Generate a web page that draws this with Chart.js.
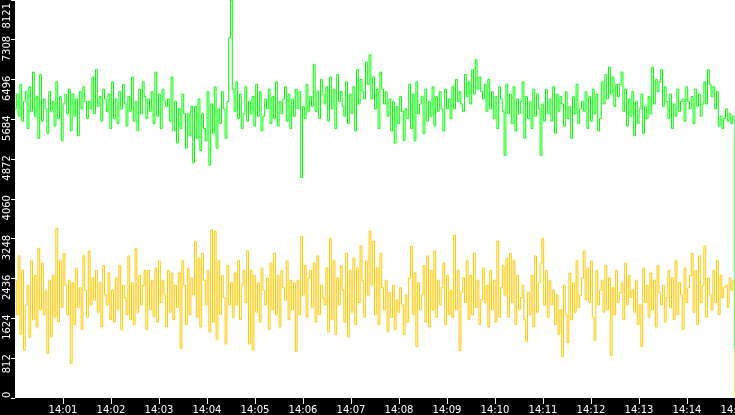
<!DOCTYPE html>
<html>
<head>
<meta charset="utf-8">
<script src="https://cdn.jsdelivr.net/npm/chart.js@4.4.1/dist/chart.umd.min.js"></script>
<style>
  html, body { margin: 0; padding: 0; background: #fff; overflow: hidden; }
</style>
</head>
<body>
<canvas id="trafficChart" width="735" height="415"></canvas>
<script>
  // one sample every 2.25 s, 14:00:00 -> 14:15:00
  var sampleStep = 2.25;

  var greenValues = [
    5900, 6200, 5750, 6400, 5650, 6050, 6250, 5500, 6350, 5850, 6650,
    5750, 6150, 5300, 6600, 5650, 6100, 5900, 5400, 6250, 5850, 6050,
    5550, 6450, 5700, 6150, 5250, 6000, 6200, 5800, 6300, 5450, 6200,
    5750, 6100, 5350, 6250, 5900, 6350, 6050, 5700, 6050, 5900, 6550,
    5800, 6700, 5950, 6150, 5650, 6300, 6100, 5850, 6200, 5500, 6450,
    5700, 6100, 5600, 6250, 5900, 6400, 6000, 5550, 6150, 5850, 6550,
    5650, 6050, 5450, 6300, 5800, 6450, 6150, 5700, 6100, 5850, 6250,
    5600, 6650, 5750, 6200, 5500, 6300, 6050, 5950, 6100, 5650, 6550,
    5450, 6050, 5200, 5900, 5500, 6200, 5800, 5100, 5800, 5350, 5950,
    4800, 5950, 5300, 6100, 5050, 5800, 5500, 5250, 6250, 4750, 6000,
    5400, 6350, 5100, 5900, 5600, 6250, 5900, 5300, 6050, 7350, 8121,
    6300, 5850, 6450, 5700, 6200, 5500, 5800, 6350, 5650, 6050, 5800,
    6150, 5550, 6400, 5750, 6250, 5450, 5750, 6100, 5900, 6300, 5600,
    6150, 5700, 6450, 5550, 6050, 5800, 6100, 6350, 5650, 6200, 5500,
    6100, 5750, 6300, 5900, 6250, 4500, 5950, 5700, 6400, 5850, 6150,
    5950, 6800, 5850, 6250, 5700, 6500, 6200, 6000, 6350, 5650, 6550,
    5900, 6300, 5500, 6600, 6050, 6250, 5950, 5750, 6450, 5600, 6200,
    5800, 6350, 5450, 6700, 6000, 6500, 6250, 6100, 6850, 6400, 7000,
    6100, 6550, 5900, 6300, 5500, 6650, 6300, 6000, 6250, 5750, 6100,
    5450, 6050, 5200, 5950, 5600, 6150, 5850, 5250, 5900, 5700, 6400,
    5500, 6200, 5250, 6450, 5800, 6000, 6150, 5400, 6300, 5650, 6050,
    5750, 6350, 5550, 6150, 5850, 6250, 5900, 5450, 6300, 5900, 6100,
    5700, 6350, 5900, 6500, 6050, 6250, 6000, 5850, 6600, 6150, 6450,
    6000, 6700, 6200, 6900, 6300, 6550, 6250, 6100, 6400, 5850, 6500,
    5900, 6250, 5700, 6150, 5500, 6350, 6100, 5850, 4950, 6400, 5800,
    6200, 5600, 6350, 5450, 6100, 5800, 6050, 6450, 5300, 6150, 5700,
    6050, 5500, 6300, 5750, 6200, 5900, 4950, 6000, 5650, 6300, 5800,
    6100, 5650, 6350, 5400, 6200, 5850, 6150, 6000, 5550, 6250, 5700,
    5950, 5300, 6150, 5800, 6400, 5600, 5900, 6050, 5850, 6250, 5500,
    6150, 5650, 6300, 5800, 6200, 5450, 5700, 6450, 6000, 6600, 6100,
    6750, 6200, 6550, 5950, 6400, 6150, 6400, 6650, 5850, 6300, 5550,
    6100, 5750, 6250, 5350, 6050, 5600, 5900, 6200, 5400, 5950, 5700,
    6150, 5800, 6750, 6000, 6500, 6250, 6450, 6700, 5950, 6350, 6050, 5700,
    6200, 5500, 6000, 5750, 6300, 5850, 6050, 6100, 5650, 6350, 6050, 5900,
    6150, 5600, 6300, 5950, 6200, 5750, 6000, 6450, 6000, 6700, 6400, 6150,
    6350, 5900, 6250, 5550, 5750, 5500, 5700, 5900, 5650, 5800, 5600, 5750,
    1000
  ];

  var yellowValues = [
    2400, 1700, 2900, 1300, 2600, 980, 1900, 2300, 1240, 2800, 1600,
    2500, 1450, 3050, 1800, 2750, 1700, 2200, 910, 2400, 1250, 2500,
    1650, 3461, 1550, 2800, 1850, 2950, 2300, 1700, 2400, 707, 2350,
    1500, 2650, 1850, 2250, 1400, 2900, 2200, 1650, 3000, 1900, 2450,
    2000, 2600, 1750, 2350, 1450, 2700, 2100, 1900, 2550, 1600, 2200,
    1550, 2450, 1800, 2700, 1400, 2300, 2050, 1700, 2900, 1600, 2350,
    1500, 3050, 1750, 2500, 1900, 2300, 2600, 1400, 2600, 1800, 2400,
    1650, 2650, 1550, 2800, 1950, 2400, 2100, 1450, 2600, 1750, 2550,
    1600, 2300, 1850, 2550, 1013, 2800, 2300, 1500, 2650, 1700, 2450,
    2100, 3189, 1650, 2850, 1450, 2950, 2400, 1900, 2600, 1350, 3427,
    1550, 3400, 1200, 2800, 1700, 2500, 2050, 1100, 2700, 1900, 2350,
    1650, 2550, 1900, 2800, 1600, 2300, 2600, 1950, 3000, 1100, 2600,
    980, 2500, 1750, 2350, 1550, 2650, 2200, 1900, 2450, 1400, 2750,
    1800, 2950, 1700, 2500, 1450, 2600, 2250, 2000, 2800, 1600, 2400,
    1800, 2350, 945, 2400, 1700, 3290, 2100, 2700, 1650, 2450, 2600,
    1850, 2750, 1550, 2900, 1700, 2300, 2050, 1900, 2650, 1350, 3250,
    1600, 2800, 1300, 2450, 1900, 2700, 2200, 1550, 2950, 1250, 2600,
    1750, 2850, 1500, 2650, 1950, 3100, 2400, 1650, 2800, 2100, 3407,
    2300, 3200, 1700, 2650, 1500, 2950, 2250, 1800, 2400, 1350, 2150,
    1650, 2300, 1400, 2000, 1750, 2250, 1900, 1300, 2100, 1550, 2450,
    3100, 1700, 2550, 1050, 2350, 1800, 2100, 2700, 1550, 2900, 1450,
    2600, 1800, 3000, 1650, 2400, 1900, 2250, 2750, 1500, 2500, 1700,
    2200, 1650, 3325, 1800, 2600, 970, 2150, 2450, 1950, 2800, 1600,
    2500, 1700, 2950, 1850, 2400, 1500, 2000, 2650, 1950, 2300, 1450,
    2600, 1800, 2400, 1550, 3200, 1650, 2250, 2700, 2100, 2850, 1650,
    2950, 1950, 2800, 1500, 2500, 1800, 2050, 2300, 1600, 1150, 2150,
    1700, 2500, 1450, 2900, 1750, 2350, 2750, 3257, 1900, 2600, 1650,
    2400, 1900, 2200, 1500, 2100, 1300, 1800, 843, 2300, 1700, 1130,
    2550, 1600, 2350, 1750, 2800, 1850, 2100, 2450, 3000, 2000, 2650,
    1950, 2800, 1650, 1180, 2600, 1900, 2200, 2400, 1750, 2700, 1800,
    2450, 870, 2250, 1700, 2600, 1950, 2150, 2350, 1600, 2750, 1900,
    2500, 2050, 2200, 1750, 2400, 1500, 1900, 1050, 2650, 1950, 2300,
    1650, 2550, 1800, 2400, 1450, 2700, 2150, 1900, 2300, 1550, 2050, 2600,
    1850, 2450, 1600, 2800, 1700, 2350, 2100, 1400, 2650, 1950, 2250, 2500,
    2950, 1750, 2600, 1500, 2900, 1950, 2300, 3100, 1650, 2450, 2100, 1800,
    2600, 1950, 2800, 1700, 2500, 2050, 2250, 2300, 1850, 2450, 2200, 2400,
    0
  ];

  var yTickValues = [0, 812, 1624, 2436, 3248, 4060, 4872, 5684, 6496, 7308, 8121];
  var xTickSeconds = [60, 120, 180, 240, 300, 360, 420, 480, 540, 600, 660, 720, 780, 840, 900];
  var xTickLabels = ['14:01', '14:02', '14:03', '14:04', '14:05', '14:06', '14:07', '14:08',
                     '14:09', '14:10', '14:11', '14:12', '14:13', '14:14', '14:15'];

  var sampleSeconds = greenValues.map(function (v, i) { return i * sampleStep; });

  var tickFont = { family: 'DejaVu Sans', size: 10 };

  // black background behind both axes, rotated y labels hanging below each tick
  var axisBands = {
    id: 'axisBands',
    beforeDraw: function (chart) {
      var c = chart.ctx, a = chart.chartArea;
      c.save();
      c.fillStyle = '#000';
      c.fillRect(0, 0, a.left, chart.height);
      c.fillRect(0, a.bottom, chart.width, chart.height - a.bottom);
      c.restore();
    },
    // half-pixel shift so the 1px vertical strokes sit closer to whole pixels
    beforeDatasetsDraw: function (chart) {
      chart.ctx.save();
      chart.ctx.translate(-0.5, 0);
    },
    afterDatasetsDraw: function (chart) {
      chart.ctx.restore();
    },
    afterDraw: function (chart) {
      var c = chart.ctx, a = chart.chartArea, ys = chart.scales.y;
      c.save();
      c.font = '10px "DejaVu Sans"';
      c.fillStyle = '#fff';
      c.textAlign = 'right';
      c.textBaseline = 'middle';
      yTickValues.forEach(function (v) {
        var label = String(v);
        var w = c.measureText(label).width;
        var y = ys.getPixelForValue(v) - 4;
        if (y < 3) y = 3;
        if (y + w > a.bottom) y = a.bottom - w;
        c.save();
        c.translate(7.5, y);
        c.rotate(-Math.PI / 2);
        c.fillText(label, 0, 0);
        c.restore();
      });
      c.restore();
    }
  };

  var ctx = document.getElementById('trafficChart').getContext('2d');
  var trafficChart = new Chart(ctx, {
    type: 'line',
    data: {
      labels: sampleSeconds,
      datasets: [{
        data: greenValues,
        borderColor: '#00ff00',
        borderWidth: 1,
        pointRadius: 0,
        stepped: 'before',
        fill: false
      }, {
        data: yellowValues,
        borderColor: '#ffc800',
        borderWidth: 1,
        pointRadius: 0,
        stepped: 'before',
        fill: false
      }]
    },
    options: {
      responsive: false,
      devicePixelRatio: 1,
      animation: false,
      layout: { padding: 0 },
      plugins: {
        legend: { display: false },
        tooltip: { enabled: false }
      },
      scales: {
        x: {
          type: 'linear',
          min: 0,
          max: 900,
          border: { display: false },
          grid: { drawOnChartArea: false, color: '#fff', tickLength: 6 },
          ticks: {
            color: '#fff',
            font: tickFont,
            padding: 0,
            autoSkip: false,
            maxRotation: 0,
            minRotation: 0,
            callback: function (v, i) { return xTickLabels[i]; }
          },
          afterBuildTicks: function (s) {
            s.ticks = xTickSeconds.map(function (v) { return { value: v }; });
          },
          afterFit: function (s) {
            s.height = 17;
            s.paddingLeft = 0;
            s.paddingRight = 0;
          }
        },
        y: {
          min: 0,
          max: 8121,
          border: { display: false },
          grid: { drawOnChartArea: false, color: '#fff', tickLength: 4 },
          ticks: {
            color: '#fff',
            font: tickFont,
            autoSkip: false,
            callback: function () { return ''; }
          },
          afterBuildTicks: function (s) {
            s.ticks = yTickValues.map(function (v) { return { value: v }; });
          },
          afterFit: function (s) {
            s.width = 15;
            s.paddingTop = 0;
            s.paddingBottom = 0;
          }
        }
      }
    },
    plugins: [axisBands]
  });
</script>
</body>
</html>
